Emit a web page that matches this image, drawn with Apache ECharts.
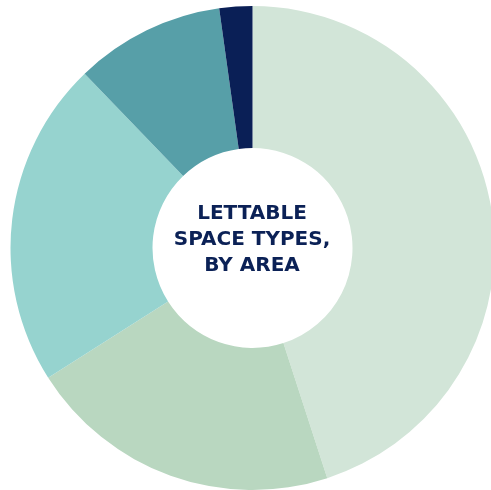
<!DOCTYPE html>
<html>
<head>
<meta charset="utf-8">
<script src="https://cdn.jsdelivr.net/npm/echarts@6/dist/echarts.min.js"></script>
<style>
  html, body { margin: 0; padding: 0; background: #fff; }
  #chart { width: 491px; height: 490px; }
</style>
</head>
<body>
<div id="chart"></div>
<script>
// slice order clockwise from 12 o'clock
const spaceTypes = ["Type A", "Type B", "Type C", "Type D", "Type E"];
const areaShare = [45, 21, 21.8, 10, 2.2];
const sliceColors = ["#d2e5d8", "#b9d7c0", "#96d3cf", "#579fa8", "#0a1f56"];
const centerLabel = "LETTABLE\nSPACE TYPES,\nBY AREA";

const chart = echarts.init(document.getElementById("chart"));

chart.setOption({
  animation: false,
  color: sliceColors,
  series: [
    {
      type: "pie",
      center: [252.5, 248],
      radius: [100, 242],
      startAngle: 90,
      clockwise: true,
      silent: true,
      label: { show: false },
      labelLine: { show: false },
      itemStyle: { borderWidth: 0 },
      data: spaceTypes.map((name, i) => ({ name: name, value: areaShare[i] })),
    },
  ],
  graphic: [
    {
      type: "text",
      x: 252,
      y: 240,
      style: {
        text: centerLabel,
        fill: "#0b2156",
        font: "bold 20px 'DejaVu Sans', sans-serif",
        lineHeight: 26,
        align: "center",
        verticalAlign: "middle",
      },
    },
  ],
});
</script>
</body>
</html>
